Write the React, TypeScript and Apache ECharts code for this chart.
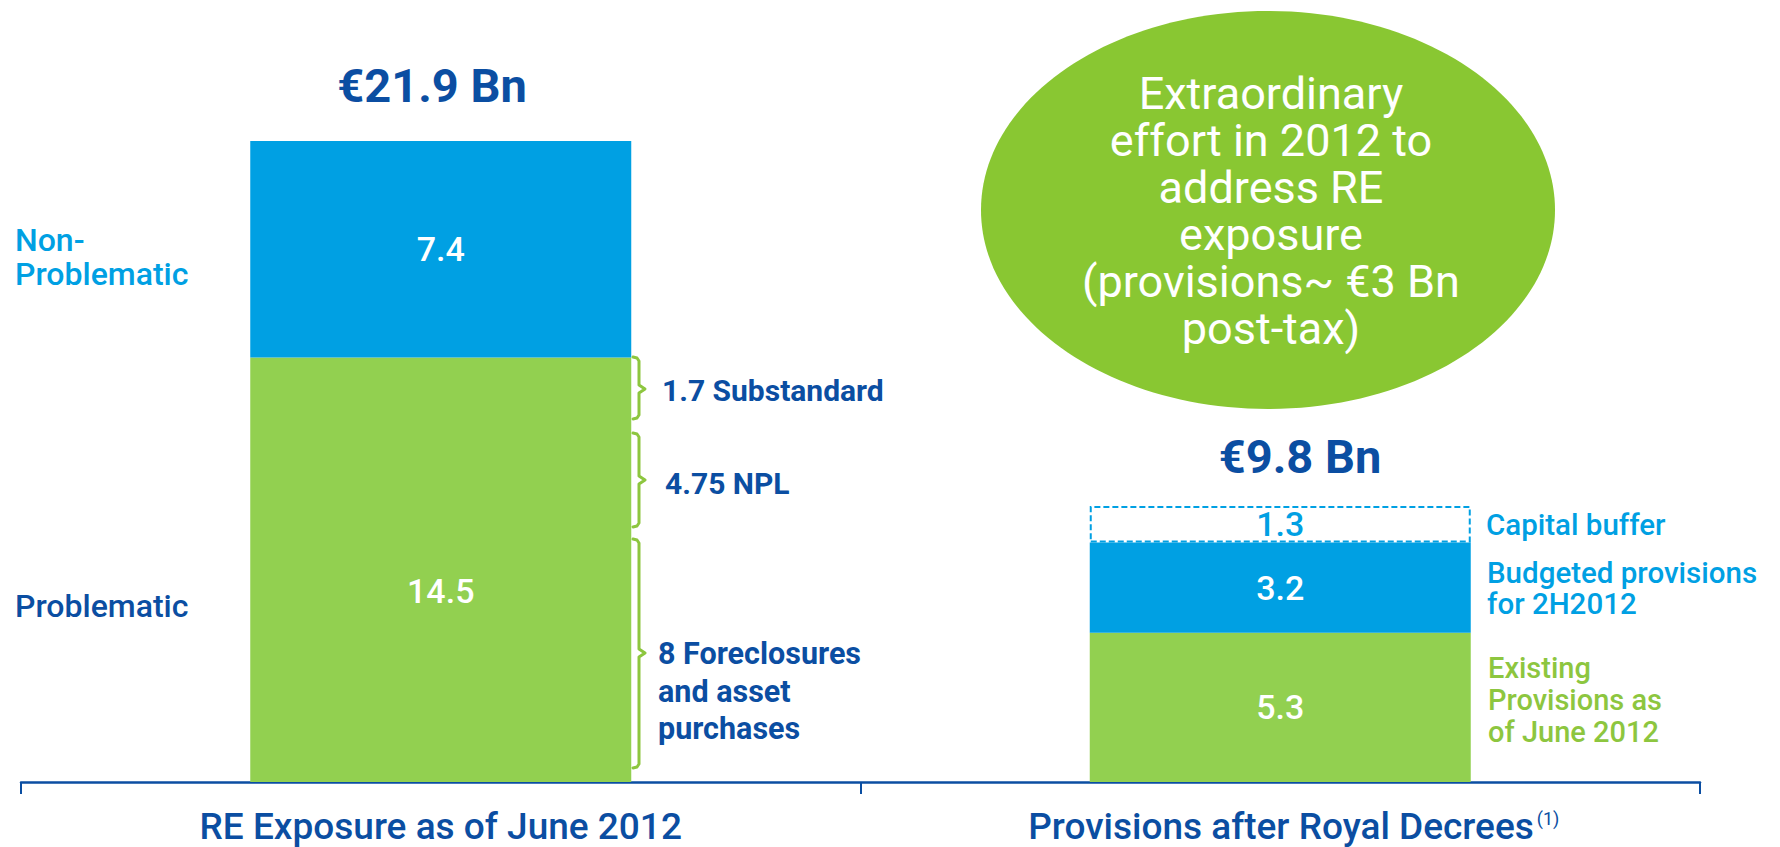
import React, { useEffect, useRef } from 'react';
import * as echarts from 'echarts';

// ---- data ----
const categories = ['RE Exposure as of June 2012', 'Provisions after Royal Decrees'];
const exposureNames = ['Problematic', 'Non-Problematic'];
const exposureValues = [14.5, 7.4];
const provisionNames = ['Existing\nProvisions as\nof June 2012', 'Budgeted provisions\nfor 2H2012', 'Capital buffer'];
const provisionValues = [5.3, 3.2, 1.3];
const breakdownNames = ['Substandard', 'NPL', 'Foreclosures\nand asset\npurchases'];
const breakdownValues = [1.7, 4.75, 8];
const calloutLines = ['Extraordinary', 'effort in 2012 to', 'address RE', 'exposure', '(provisions~ €3 Bn', 'post-tax)'];
const footnoteMark = '(1)';

// ---- styling ----
const DARK_BLUE = '#0b4ea2';
const BLUE = '#00a0e3';
const GREEN = '#92d050';
const TEXT_GREEN = '#8dc63f';
const ELLIPSE_GREEN = '#89c732';
const FONT = 'Roboto';

const sum = (a: number[]) => a.reduce((s, v) => s + v, 0);

export default function App() {
  const ref = useRef<HTMLDivElement>(null);

  useEffect(() => {
    if (!ref.current) return;
    const chart = echarts.init(ref.current, null, { renderer: 'svg' });

    const text = (x: number, y: number, t: string, o: any = {}) => ({
      type: 'text',
      x,
      y,
      z: 20,
      style: {
        text: t,
        fill: o.fill || DARK_BLUE,
        fontSize: o.fontSize || 30,
        fontWeight: o.fontWeight || 700,
        fontFamily: FONT,
        lineHeight: o.lineHeight || (o.fontSize || 30) * 1.15,
        align: o.align || 'left',
        textAlign: o.align || 'left',
        verticalAlign: 'middle',
        textVerticalAlign: 'middle',
      },
    });

    const brace = (top: number, bottom: number, tip: number) => ({
      type: 'polyline',
      z: 20,
      shape: {
        points: [
          [633, top], [637, top + 1], [639, top + 4], [639, tip - 4], [645, tip],
          [639, tip + 4], [639, bottom - 4], [637, bottom - 1], [633, bottom],
        ],
      },
      style: { stroke: TEXT_GREEN, lineWidth: 3, fill: null, lineJoin: 'round', lineCap: 'round' },
    });

    const barLabel = (color: string, offset: number[] = [0, 0]) => ({
      show: true,
      position: 'inside',
      offset,
      color,
      fontSize: 34,
      fontWeight: 500,
      fontFamily: FONT,
    });

    const option: any = {
      animation: false,
      textStyle: { fontFamily: FONT },
      grid: { left: 21, right: 80, top: 141, bottom: 65 },
      xAxis: {
        type: 'category',
        data: categories,
        axisLine: { lineStyle: { color: DARK_BLUE, width: 2.5 } },
        axisTick: { show: true, length: 12, lineStyle: { color: DARK_BLUE, width: 2 } },
        axisLabel: {
          margin: 27,
          interval: 0,
          formatter: (v: string, i: number) =>
            i === 1 ? `{pad| }{main|${v}}{sup|${footnoteMark}}` : `{main|${v}}`,
          rich: {
            main: { fontSize: 37, fontWeight: 500, color: DARK_BLUE, lineHeight: 34, fontFamily: FONT },
            sup: { fontSize: 18, color: DARK_BLUE, verticalAlign: 'top', lineHeight: 2, padding: [0, 0, 0, 3], fontFamily: FONT },
            pad: { width: 27 },
          },
        },
      },
      yAxis: [
        { type: 'value', min: 0, max: 21.9, show: false },
        { type: 'value', min: 0, max: 22.75, show: false },
      ],
      series: [
        {
          name: exposureNames[0], type: 'bar', stack: 'all', yAxisIndex: 0, barWidth: 381,
          data: [exposureValues[0], '-'], itemStyle: { color: GREEN },
          label: barLabel('#ffffff', [0, 21]),
        },
        {
          name: exposureNames[1], type: 'bar', stack: 'all', yAxisIndex: 0, barWidth: 381,
          data: [exposureValues[1], '-'], itemStyle: { color: BLUE },
          label: barLabel('#ffffff'),
        },
        {
          name: 'Existing provisions', type: 'bar', stack: 'all', yAxisIndex: 1, barWidth: 381,
          data: ['-', provisionValues[0]], itemStyle: { color: GREEN },
          label: barLabel('#ffffff'),
        },
        {
          name: 'Budgeted provisions', type: 'bar', stack: 'all', yAxisIndex: 1, barWidth: 381,
          data: ['-', provisionValues[1]], itemStyle: { color: BLUE },
          label: barLabel('#ffffff'),
        },
        {
          name: 'Capital buffer', type: 'bar', stack: 'all', yAxisIndex: 1, barWidth: 381,
          data: ['-', provisionValues[2]],
          itemStyle: { color: 'rgba(255,255,255,0)', borderColor: BLUE, borderWidth: 2, borderType: [6, 3] },
          label: barLabel(BLUE),
        },
      ],
      graphic: [
        { type: 'ellipse', z: 5, shape: { cx: 1268, cy: 210, rx: 287, ry: 199 }, style: { fill: ELLIPSE_GREEN } },
        text(1271, 211, calloutLines.join('\n'), { fill: '#ffffff', fontSize: 45, fontWeight: 400, lineHeight: 47, align: 'center' }),
        text(432, 85, `€${sum(exposureValues).toFixed(1)} Bn`, { fontSize: 47, fontWeight: 700, align: 'center' }),
        text(1300, 456, `€${sum(provisionValues).toFixed(1)} Bn`, { fontSize: 47, fontWeight: 700, align: 'center' }),
        text(15, 257, 'Non-\nProblematic', { fill: BLUE, fontSize: 32, fontWeight: 500, lineHeight: 34 }),
        text(15, 606, exposureNames[0], { fill: DARK_BLUE, fontSize: 32, fontWeight: 500 }),
        brace(357, 419, 389),
        brace(433, 527, 480),
        brace(539, 768, 653),
        text(662, 390, `${breakdownValues[0]} ${breakdownNames[0]}`, { fontSize: 30, fontWeight: 700 }),
        text(665, 483, `${breakdownValues[1]} ${breakdownNames[1]}`, { fontSize: 30, fontWeight: 700 }),
        text(658, 691, `${breakdownValues[2]} ${breakdownNames[2]}`, { fontSize: 30.5, fontWeight: 700, lineHeight: 37.5 }),
        text(1486, 525, provisionNames[2], { fill: BLUE, fontSize: 29.5, fontWeight: 500 }),
        text(1487, 588, provisionNames[1], { fill: BLUE, fontSize: 29.5, fontWeight: 500, lineHeight: 31 }),
        text(1488, 700, provisionNames[0], { fill: TEXT_GREEN, fontSize: 29, fontWeight: 500, lineHeight: 32 }),
      ],
    };

    chart.setOption(option);
    return () => chart.dispose();
  }, []);

  return (
    <div
      ref={ref}
      style={{ position: 'absolute', left: 0, top: 0, width: 1780, height: 847, background: '#ffffff' }}
    />
  );
}
